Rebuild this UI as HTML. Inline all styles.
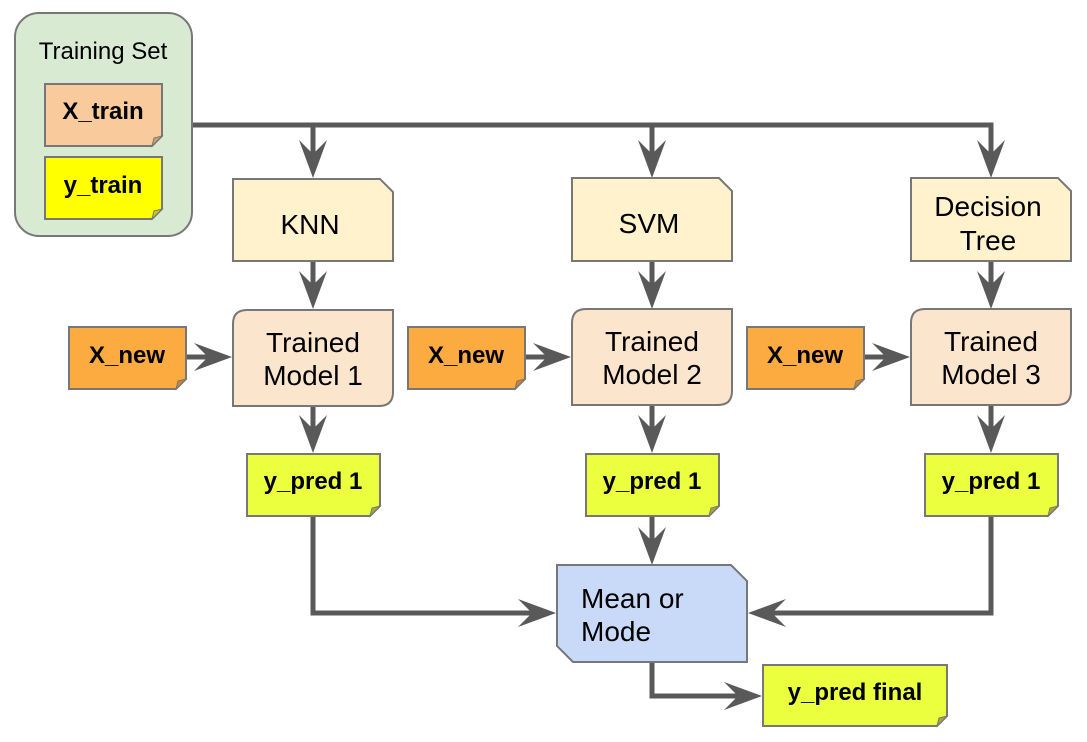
<!DOCTYPE html>
<html><head><meta charset="utf-8"><style>
html,body{margin:0;padding:0;background:#fff;}
svg{display:block;}
text{font-family:"Liberation Sans",sans-serif;}
</style></head><body>
<svg width="1087" height="742" viewBox="0 0 1087 742" xmlns="http://www.w3.org/2000/svg">
<g stroke="#595959" stroke-width="5" fill="none" stroke-linejoin="miter">
  <path d="M192 125 H991 V160"/>
  <path d="M313 125 V160"/><path d="M652 125 V160"/>
  <path d="M313 261 V290"/><path d="M652 261 V290"/><path d="M991 261 V290"/>
  <path d="M186 357 H213"/><path d="M525 357 H552"/><path d="M864 357 H891"/>
  <path d="M313 406 V434"/><path d="M652 406 V434"/><path d="M991 406 V434"/>
  <path d="M313 516 V613 H537"/>
  <path d="M652 516 V546"/>
  <path d="M991 516 V613 H766"/>
  <path d="M652 662 V696 H744"/>
</g>
<g fill="#595959">
  <polygon points="313,178 299,140 313,154 327,140"/>
  <polygon points="652,178 638,140 652,154 666,140"/>
  <polygon points="991,178 977,140 991,154 1005,140"/>
  <polygon points="313,309 299,271 313,285 327,271"/>
  <polygon points="652,309 638,271 652,285 666,271"/>
  <polygon points="991,309 977,271 991,285 1005,271"/>
  <polygon points="232,357 194,343 208,357 194,371"/>
  <polygon points="571,357 533,343 547,357 533,371"/>
  <polygon points="910,357 872,343 886,357 872,371"/>
  <polygon points="313,453 299,415 313,429 327,415"/>
  <polygon points="652,453 638,415 652,429 666,415"/>
  <polygon points="991,453 977,415 991,429 1005,415"/>
  <polygon points="652,565 638,527 652,541 666,527"/>
  <polygon points="556,613 518,599 532,613 518,627"/>
  <polygon points="748,613 786,599 772,613 786,627"/>
  <polygon points="762,696 724,682 738,696 724,710"/>
</g>
<g stroke="#777" stroke-width="2">
  <rect x="15" y="13" width="177" height="223" rx="24" fill="#d9ead3"/>
  <path d="M45 84 H162 V136 L152 146 H45 Z" fill="#f9cb9c"/>
  <path d="M45 157 H162 V209 L152 219 H45 Z" fill="#ffff00"/>
  <path d="M233 179 H380 L393 192 V261 H233 Z" fill="#fff2cc"/>
  <path d="M572 178 H719 L732 191 V261 H572 Z" fill="#fff2cc"/>
  <path d="M911 178 H1058 L1071 191 V261 H911 Z" fill="#fff2cc"/>
  <path d="M247 310 H393 V392 Q393 406 379 406 H233 V324 Q233 310 247 310 Z" fill="#fce5cd"/>
  <path d="M586 309 H732 V391 Q732 405 718 405 H572 V323 Q572 309 586 309 Z" fill="#fce5cd"/>
  <path d="M925 309 H1071 V391 Q1071 405 1057 405 H911 V323 Q911 309 925 309 Z" fill="#fce5cd"/>
  <path d="M69 327 H186 V379 L176 389 H69 Z" fill="#fbab3f"/>
  <path d="M408 327 H525 V379 L515 389 H408 Z" fill="#fbab3f"/>
  <path d="M747 327 H864 V379 L854 389 H747 Z" fill="#fbab3f"/>
  <path d="M247 454 H380 V506 L370 516 H247 Z" fill="#ecff3f"/>
  <path d="M586 454 H719 V506 L709 516 H586 Z" fill="#ecff3f"/>
  <path d="M925 454 H1058 V506 L1048 516 H925 Z" fill="#ecff3f"/>
  <path d="M557 565 H731 L747 581 V662 H573 L557 646 Z" fill="#c9daf8"/>
  <path d="M763 665 H947 V716 L937 726 H763 Z" fill="#ecff3f"/>
</g>
<g fill="#a8a840" stroke="#777" stroke-width="1">
  <path d="M152 146 L154 138 L162 136 Z" fill="#c9a070"/>
  <path d="M152 219 L154 211 L162 209 Z" fill="#cccc20"/>
  <path d="M176 389 L178 381 L186 379 Z" fill="#c98530"/>
  <path d="M515 389 L517 381 L525 379 Z" fill="#c98530"/>
  <path d="M854 389 L856 381 L864 379 Z" fill="#c98530"/>
  <path d="M370 516 L372 508 L380 506 Z"/>
  <path d="M709 516 L711 508 L719 506 Z"/>
  <path d="M1048 516 L1050 508 L1058 506 Z"/>
  <path d="M937 726 L939 718 L947 716 Z"/>
</g>
<g fill="#000" text-anchor="middle">
  <text x="103" y="59" font-size="24">Training Set</text>
  <text x="103" y="119" font-weight="bold" font-size="24">X_train</text>
  <text x="103" y="193" font-weight="bold" font-size="24">y_train</text>
  <text x="310" y="234" font-size="28">KNN</text>
  <text x="649" y="233" font-size="28">SVM</text>
  <text x="988" y="216" font-size="28">Decision</text>
  <text x="988" y="250" font-size="28">Tree</text>
  <text x="313" y="352" font-size="28">Trained</text>
  <text x="313" y="385" font-size="28">Model 1</text>
  <text x="652" y="351" font-size="28">Trained</text>
  <text x="652" y="384" font-size="28">Model 2</text>
  <text x="991" y="351" font-size="28">Trained</text>
  <text x="991" y="384" font-size="28">Model 3</text>
  <text x="127" y="363" font-weight="bold" font-size="24">X_new</text>
  <text x="466" y="363" font-weight="bold" font-size="24">X_new</text>
  <text x="805" y="363" font-weight="bold" font-size="24">X_new</text>
  <text x="313" y="489" font-weight="bold" font-size="24">y_pred 1</text>
  <text x="652" y="489" font-weight="bold" font-size="24">y_pred 1</text>
  <text x="991" y="489" font-weight="bold" font-size="24">y_pred 1</text>
  <text x="855" y="700" font-weight="bold" font-size="24">y_pred final</text>
  <text x="581" y="608" text-anchor="start" font-size="28">Mean or</text>
  <text x="581" y="641" text-anchor="start" font-size="28">Mode</text>
</g>
</svg>
</body></html>
